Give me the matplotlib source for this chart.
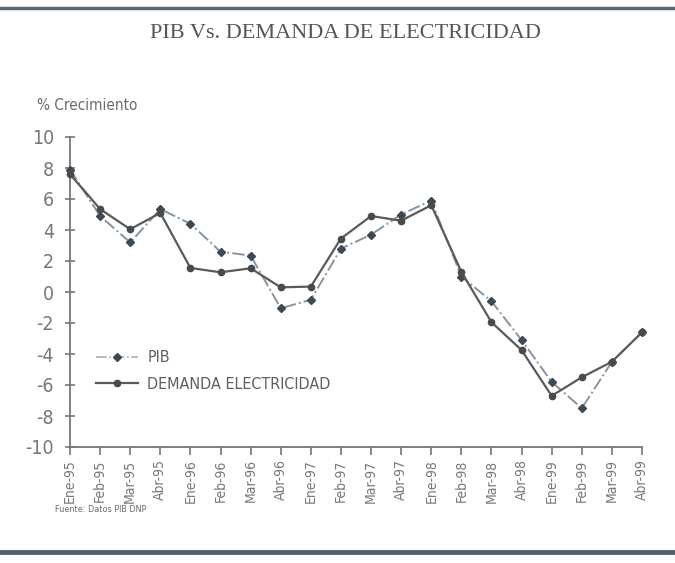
import matplotlib.pyplot as plt
from matplotlib.lines import Line2D

plt.rcParams['axes.unicode_minus'] = False

# data (% growth)
periods = ['Ene-95', 'Feb-95', 'Mar-95', 'Abr-95', 'Ene-96', 'Feb-96', 'Mar-96',
           'Abr-96', 'Ene-97', 'Feb-97', 'Mar-97', 'Abr-97', 'Ene-98', 'Feb-98',
           'Mar-98', 'Abr-98', 'Ene-99', 'Feb-99', 'Mar-99', 'Abr-99']
pib = [7.9, 4.9, 3.2, 5.35, 4.4, 2.6, 2.35, -1.05, -0.5, 2.8,
       3.7, 5.0, 5.9, 1.0, -0.6, -3.1, -5.8, -7.5, -4.5, -2.6]
demanda = [7.6, 5.35, 4.05, 5.1, 1.55, 1.27, 1.53, 0.3, 0.35, 3.45,
           4.9, 4.6, 5.6, 1.3, -1.95, -3.75, -6.7, -5.5, -4.5, -2.6]

FONT = 'DejaVu Sans'
STRETCH = 'condensed'
GREY = '#6b6b6b'

fig = plt.figure(figsize=(6.75, 5.63), dpi=100)
ax = fig.add_axes([70 / 675, 1 - 447 / 563, 572 / 675, 310 / 563])

x = list(range(len(periods)))
ax.plot(x, pib, linestyle='-.', color='#8494a0', linewidth=1.4,
        marker='D', markersize=4.5, markerfacecolor='#3d4a55',
        markeredgecolor='#3d4a55', clip_on=False, zorder=3)
ax.plot(x, demanda, linestyle='-', color='#5a5a5a', linewidth=1.6,
        marker='o', markersize=4.5, markerfacecolor='#4a4a4a',
        markeredgecolor='#4a4a4a', clip_on=False, zorder=4)

ax.set_xlim(0, len(periods) - 1)
ax.set_ylim(-10, 10)
ax.set_yticks(range(-10, 11, 2))
ax.set_xticks(x)
ax.set_xticklabels(periods, rotation=90, family=FONT, stretch=STRETCH,
                   fontsize=10, color=GREY)
for lbl in ax.get_yticklabels():
    lbl.set_family(FONT)
    lbl.set_stretch(STRETCH)
    lbl.set_fontsize(14)
    lbl.set_color(GREY)

for side in ['top', 'right']:
    ax.spines[side].set_visible(False)
for side in ['left', 'bottom']:
    ax.spines[side].set_color('#777777')
    ax.spines[side].set_linewidth(1.3)
ax.tick_params(axis='y', direction='inout', length=7, width=1.2, colors='#777777', pad=8)
ax.tick_params(axis='x', direction='out', length=6, width=1.2, colors='#777777', pad=3)

handles = [
    Line2D([], [], linestyle='-.', color='#9fb0bb', linewidth=1.2, marker='D',
           markersize=4.5, markerfacecolor='#3d4a55', markeredgecolor='#3d4a55'),
    Line2D([], [], linestyle='-', color='#5a5a5a', linewidth=1.6, marker='o',
           markersize=4.5, markerfacecolor='#4a4a4a', markeredgecolor='#4a4a4a'),
]
leg = ax.legend(handles, ['PIB', 'DEMANDA ELECTRICIDAD'], loc='upper left',
                bbox_to_anchor=(82 / 675, 1 - 336 / 563), bbox_transform=fig.transFigure,
                frameon=False, handlelength=2.6, handletextpad=0.6, labelspacing=0.7,
                prop={'family': FONT, 'stretch': STRETCH, 'size': 11.5})
for t in leg.get_texts():
    t.set_color('#5f5f5f')

fig.text(345 / 675, 1 - 33 / 563, 'PIB Vs. DEMANDA DE ELECTRICIDAD', ha='center', va='center',
         family='Liberation Serif', fontsize=16, color='#555555')
fig.text(37 / 675, 1 - 106 / 563, '% Crecimiento', ha='left', va='center',
         family=FONT, stretch=STRETCH, fontsize=11, color='#6a6a6a')
fig.text(55 / 675, 1 - 509 / 563, 'Fuente: Datos PIB DNP', ha='left', va='center',
         family=FONT, stretch=STRETCH, fontsize=6.5, color='#6a6a6a')

# decorative rules at top and bottom
fig.add_artist(Line2D([0, 1], [1 - 8 / 563, 1 - 8 / 563], transform=fig.transFigure,
                      color='#5b6670', linewidth=2.5))
fig.add_artist(Line2D([0, 1], [1 - 552 / 563, 1 - 552 / 563], transform=fig.transFigure,
                      color='#4f6070', linewidth=3.5))

fig.savefig('out.png', dpi=100)
